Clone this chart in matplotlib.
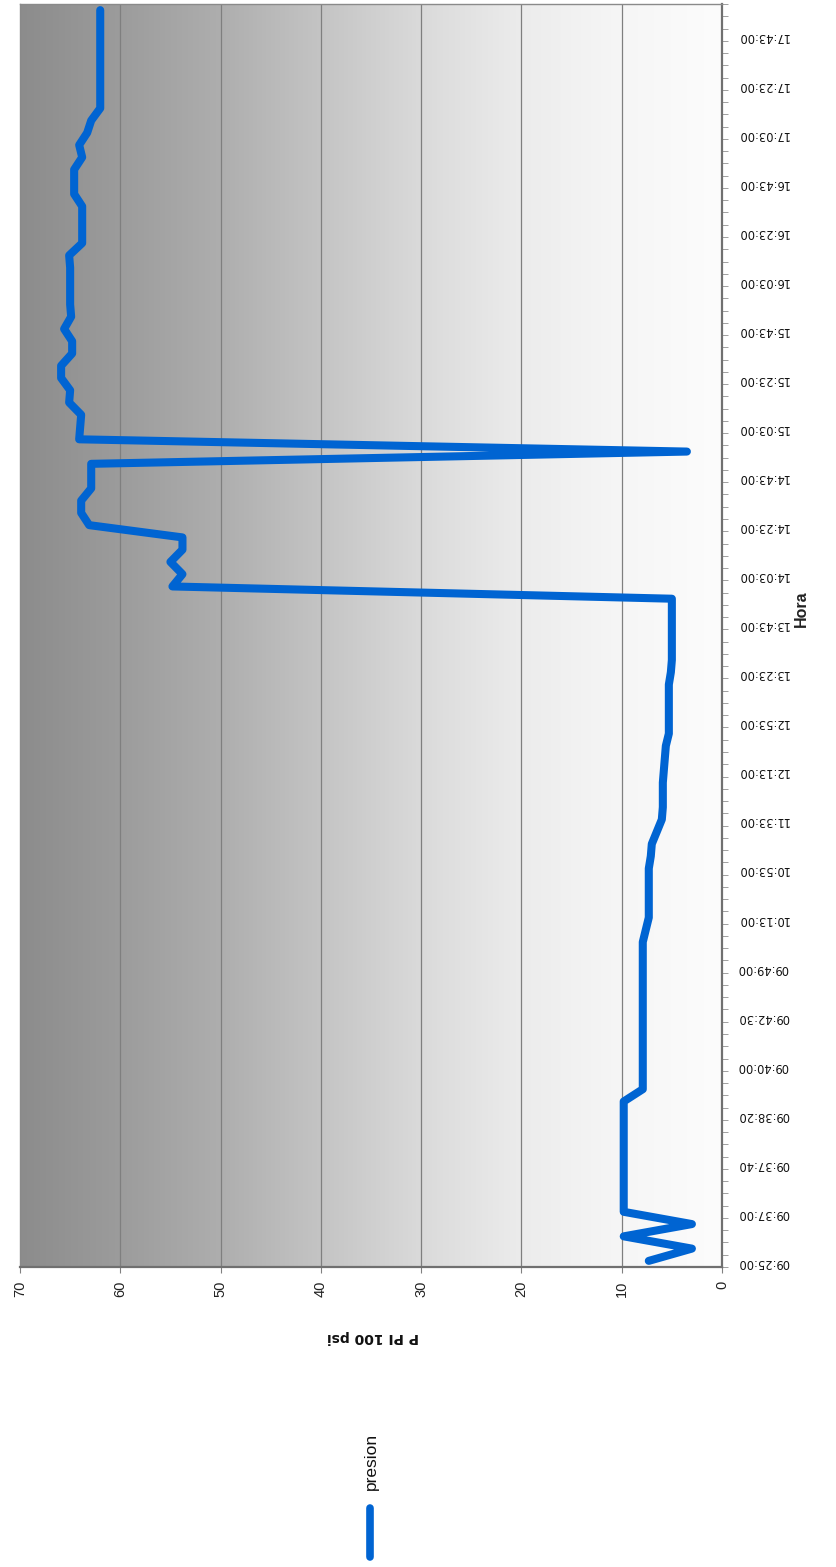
import numpy as np
import matplotlib.pyplot as plt
from matplotlib.lines import Line2D

# Categorías (hora) etiquetadas cada 4 puntos en el eje
tick_pos = list(range(0, 101, 4))
tick_labels = ['09:25:00', '09:37:00', '09:37:40', '09:38:20', '09:40:00', '09:42:30',
               '09:49:00', '10:13:00', '10:53:00', '11:33:00', '12:13:00', '12:53:00',
               '13:23:00', '13:43:00', '14:03:00', '14:23:00', '14:43:00', '15:03:00',
               '15:23:00', '15:43:00', '16:03:00', '16:23:00', '16:43:00', '17:03:00',
               '17:23:00', '17:43:00']

# Presion, un valor por categoria (103 puntos)
presion = [7.3, 3.0, 9.8, 3.0, 9.8, 9.8, 9.8, 9.8, 9.8, 9.8,
           9.8, 9.8, 9.8, 9.8, 7.9, 7.9, 7.9, 7.9, 7.9, 7.9,
           7.9, 7.9, 7.9, 7.9, 7.9, 7.9, 7.9, 7.6, 7.3, 7.3,
           7.3, 7.3, 7.3, 7.1, 7.0, 6.5, 6.0, 5.9, 5.9, 5.9,
           5.8, 5.7, 5.6, 5.3, 5.3, 5.3, 5.3, 5.3, 5.1, 5.0,
           5.0, 5.0, 5.0, 5.0, 5.0, 54.8, 53.8, 55.0, 53.8, 53.8,
           63.1, 63.9, 63.9, 62.9, 62.9, 62.9, 3.5, 64.1, 64.0, 63.9,
           65.1, 65.0, 65.9, 65.9, 64.8, 64.8, 65.6, 64.9, 65.0, 65.0,
           65.0, 65.0, 65.1, 63.8, 63.8, 63.8, 63.8, 64.6, 64.6, 64.6,
           63.8, 64.1, 63.3, 62.9, 62.0, 62.0, 62.0, 62.0, 62.0, 62.0,
           62.0, 62.0, 62.0]

valores = [0, 10, 20, 30, 40, 50, 60, 70]

W, H = 837, 1567
fig = plt.figure(figsize=(W / 100, H / 100), dpi=100)
ax = fig.add_axes([20 / W, 1 - 1267 / H, (722 - 20) / W, (1267 - 4) / H])

n = len(presion)
idx = np.arange(n)

# fondo degradado gris (oscuro en 70, claro en 0)
xs = np.linspace(0, 70, 300)
lum = np.interp(xs, [0, 10, 20, 30, 40, 50, 60, 70],
                [252, 246, 236, 218, 196, 174, 156, 140]) / 255.0
img = np.dstack([lum, lum, lum])
ax.imshow(img, extent=[0, 70, -0.5, n - 0.5], aspect='auto', zorder=0)

for v in valores[1:-1]:
    ax.axvline(v, color='#7f7f7f', lw=0.9, zorder=1)

ax.plot(presion, idx, color='#0064D2', lw=5.8, solid_joinstyle='round',
        solid_capstyle='round', zorder=3)

ax.set_xlim(70, 0)
ax.set_ylim(-0.5, n - 0.5)

# eje de valores (abajo)
ax.set_xticks(valores)
ax.set_xticklabels([str(v) for v in valores], rotation=90, fontsize=10.5,
                   color='#222222', family='Liberation Sans')
ax.tick_params(axis='x', direction='out', length=4, width=0.8, color='#808080', pad=6)

# eje de categorias (derecha)
ax.yaxis.tick_right()
ax.set_yticks(tick_pos)
ax.set_yticklabels(tick_labels, rotation=180, fontsize=8.3, color='#111111',
                   family='DejaVu Sans')
ax.tick_params(axis='y', which='major', length=0, pad=11)
ax.set_yticks(np.arange(-0.5, n, 1), minor=True)
ax.tick_params(axis='y', which='minor', direction='out', length=4, width=0.6,
               color='#909090')

for s in ['top', 'left']:
    ax.spines[s].set_color('#8a8a8a')
    ax.spines[s].set_linewidth(1.0)
for s in ['right', 'bottom']:
    ax.spines[s].set_color('#707070')
    ax.spines[s].set_linewidth(1.6)

# titulos de ejes
fig.text(801 / W, 1 - 609 / H, 'Hora', rotation=90, fontsize=11.5, fontweight='bold',
         ha='center', va='center', color='#222222', family='Liberation Sans')
fig.text(373 / W, 1 - 1337 / H, 'P PI 100 psi', rotation=180, fontsize=10,
         fontweight='bold', ha='center', va='center', color='#111111')

# leyenda
fig.add_artist(Line2D([370 / W, 370 / W], [1 - 1557 / H, 1 - 1508 / H],
                      color='#0064D2', lw=5.5, solid_capstyle='round'))
fig.text(371 / W, 1 - 1461 / H, 'presion', rotation=90, fontsize=12.5,
         ha='center', va='center', color='#111111', family='Liberation Sans')

fig.savefig('out.png', dpi=100)
